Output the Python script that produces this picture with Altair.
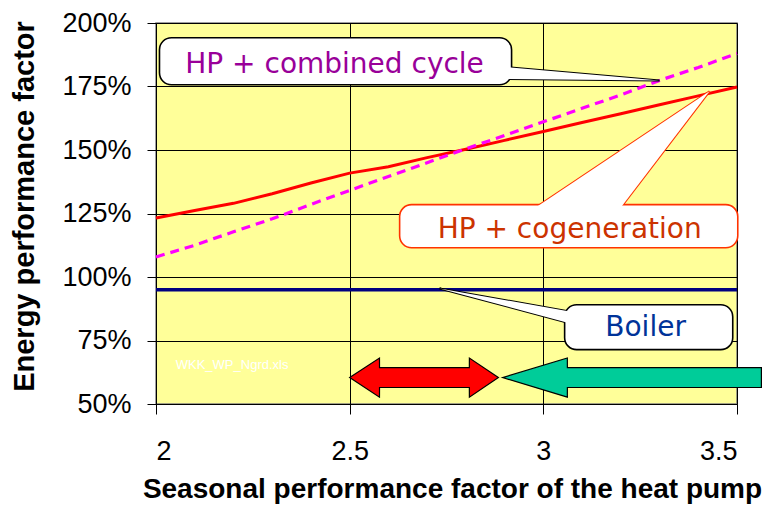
import altair as alt
import pandas as pd

# ---- data ----
spf = [2.0, 2.1, 2.2, 2.3, 2.4, 2.5, 2.6, 2.7, 2.8, 2.9, 3.0, 3.1, 3.2, 3.3, 3.4, 3.5]
cogeneration = [1.232, 1.262, 1.290, 1.328, 1.370, 1.409, 1.434, 1.470, 1.503, 1.538,
                1.573, 1.608, 1.643, 1.678, 1.713, 1.748]
combined_cycle = [1.079, 1.125, 1.178, 1.229, 1.286, 1.341, 1.396, 1.450, 1.505, 1.557,
                  1.611, 1.664, 1.717, 1.774, 1.825, 1.880]
boiler = [0.95, 0.95, 0.95, 0.95, 0.95, 0.95, 0.95, 0.95, 0.95, 0.95,
          0.95, 0.95, 0.95, 0.95, 0.95, 0.95]

x_ticks = [2, 2.5, 3, 3.5]
y_ticks = [0.5, 0.75, 1.0, 1.25, 1.5, 1.75, 2.0]

# callout boxes (data coordinates)
box_labels = ["HP + combined cycle", "HP + cogeneration", "Boiler"]
box_x = [2.009, 2.629, 3.055]
box_x2 = [2.918, 3.502, 3.489]
box_y = [1.757, 1.115, 0.714]
box_y2 = [1.942, 1.285, 0.891]
box_tx = [2.461, 3.068, 3.264]
box_ty = [1.834, 1.184, 0.798]
box_text_colors = ["#990099", "#CC3300", "#003399"]
box_border_colors = ["#000000", "#FF3300", "#000000"]

# callout pointers
p1_x = [2.905, 3.300]; p1_y = [1.826, 1.774]; p1_y2 = [1.780, 1.774]
p2_y = [1.280, 1.731]; p2_x = [2.986, 3.429]; p2_x2 = [3.203, 3.429]
p3_x = [2.732, 3.065]; p3_y = [0.955, 0.865]; p3_y2 = [0.955, 0.819]

# block arrows
red_x = [2.5, 2.577, 2.5771, 2.809, 2.8091, 2.884]
red_y = [0.604, 0.681, 0.643, 0.643, 0.681, 0.604]
red_y2 = [0.604, 0.527, 0.565, 0.565, 0.527, 0.604]
green_x = [2.895, 3.062, 3.0621, 3.563]
green_y = [0.604, 0.681, 0.643, 0.643]
green_y2 = [0.604, 0.527, 0.565, 0.565]

watermark = "WKK_WP_Ngrd.xls"
wm_x = [2.051]; wm_y = [0.655]

# ---- chart ----
FONT = "Liberation Sans"
xs = alt.Scale(domain=[2, 3.5], nice=False, zero=False)
ys = alt.Scale(domain=[0.5, 2.0], nice=False, zero=False)

xaxis = alt.Axis(values=x_ticks, format="~g", grid=True, gridColor="black", gridWidth=1,
                 domainColor="black", tickColor="black", tickSize=10,
                 labelFont=FONT, labelFontSize=27, labelColor="black", labelPadding=24,
                 title="Seasonal performance factor of the heat pump",
                 titleFont=FONT, titleFontSize=28, titleFontWeight="bold", titleColor="black",
                 titleX=296, titleY=93, titleBaseline="alphabetic", titleAlign="center")
yaxis = alt.Axis(values=y_ticks, format=".0%", grid=True, gridColor="black", gridWidth=1,
                 domainColor="black", tickColor="black", tickSize=9,
                 labelFont=FONT, labelFontSize=27, labelColor="black", labelPadding=16,
                 title="Energy performance factor",
                 titleFont=FONT, titleFontSize=29, titleFontWeight="bold", titleColor="black",
                 titleX=-132, titleY=183, titleAngle=270, titleBaseline="middle", titleAlign="center")

X = alt.X("x:Q", scale=xs, axis=xaxis)
Y = alt.Y("y:Q", scale=ys, axis=yaxis)

def df(**cols):
    return pd.DataFrame(cols)

red_line = alt.Chart(df(x=spf, y=cogeneration)).mark_line(color="#FF0000", strokeWidth=3).encode(x=X, y=Y)
mag_line = alt.Chart(df(x=spf, y=combined_cycle)).mark_line(
    color="#FF00FF", strokeWidth=3.2, strokeDash=[9, 6]).encode(x=X, y=Y)
boiler_line = alt.Chart(df(x=spf, y=boiler)).mark_line(color="#000080", strokeWidth=3.5).encode(x=X, y=Y)

boxes = df(x=box_x, x2=box_x2, y=box_y, y2=box_y2, tx=box_tx, ty=box_ty,
           label=box_labels, tc=box_text_colors, bc=box_border_colors)

box_rects = alt.Chart(boxes).mark_rect(fill="white", cornerRadius=12, strokeWidth=1.6).encode(
    x=X, x2="x2:Q", y=Y, y2="y2:Q",
    stroke=alt.Stroke("bc:N", scale=None))
box_texts = alt.Chart(boxes).mark_text(font="DejaVu Sans", fontSize=28, align="center",
                                       baseline="middle").encode(
    x=alt.X("tx:Q", scale=xs, axis=xaxis), y=alt.Y("ty:Q", scale=ys, axis=yaxis),
    text="label:N", color=alt.Color("tc:N", scale=None))

def vpointer(xv, yv, y2v, stroke, sw):
    return alt.Chart(df(x=xv, y=yv, y2=y2v)).mark_area(
        fill="white", stroke=stroke, strokeWidth=sw, opacity=1).encode(x=X, y=Y, y2="y2:Q")

def hpointer(yv, xv, x2v, stroke, sw):
    return alt.Chart(df(x=xv, x2=x2v, y=yv)).mark_area(
        orient="horizontal", fill="white", stroke=stroke, strokeWidth=sw, opacity=1).encode(
        y=Y, x=X, x2="x2:Q")

ptr1a = vpointer(p1_x, p1_y, p1_y2, "black", 2)
ptr1b = vpointer(p1_x, p1_y, p1_y2, "white", 0)
ptr2a = hpointer(p2_y, p2_x, p2_x2, "#FF3300", 2)
ptr2b = hpointer(p2_y, p2_x, p2_x2, "white", 0)
ptr3a = vpointer(p3_x, p3_y, p3_y2, "black", 2)
ptr3b = vpointer(p3_x, p3_y, p3_y2, "white", 0)

red_arrow = alt.Chart(df(x=red_x, y=red_y, y2=red_y2)).mark_area(
    fill="#FF0000", stroke="black", strokeWidth=1.2, opacity=1).encode(x=X, y=Y, y2="y2:Q")
green_arrow = alt.Chart(df(x=green_x, y=green_y, y2=green_y2)).mark_area(
    fill="#00CC99", stroke="black", strokeWidth=1.2, opacity=1, clip=False).encode(x=X, y=Y, y2="y2:Q")

wm = alt.Chart(df(x=wm_x, y=wm_y, t=[watermark])).mark_text(
    font=FONT, fontSize=13, color="white", align="left", baseline="middle").encode(
    x=X, y=Y, text="t:N")

chart = alt.layer(
    red_line, mag_line, boiler_line,
    ptr1a, ptr2a, ptr3a,
    box_rects,
    ptr1b, ptr2b, ptr3b,
    box_texts,
    red_arrow, green_arrow, wm,
).properties(
    width=581, height=381,
    autosize=alt.AutoSizeParams(type="none"),
    padding={"left": 148, "top": 15, "right": 30, "bottom": 100},
    background="white",
).configure_view(fill="#FFFF99", stroke="#808080", strokeWidth=1.5)

chart.save("out.html", embed_options={"renderer": "svg", "actions": False})
